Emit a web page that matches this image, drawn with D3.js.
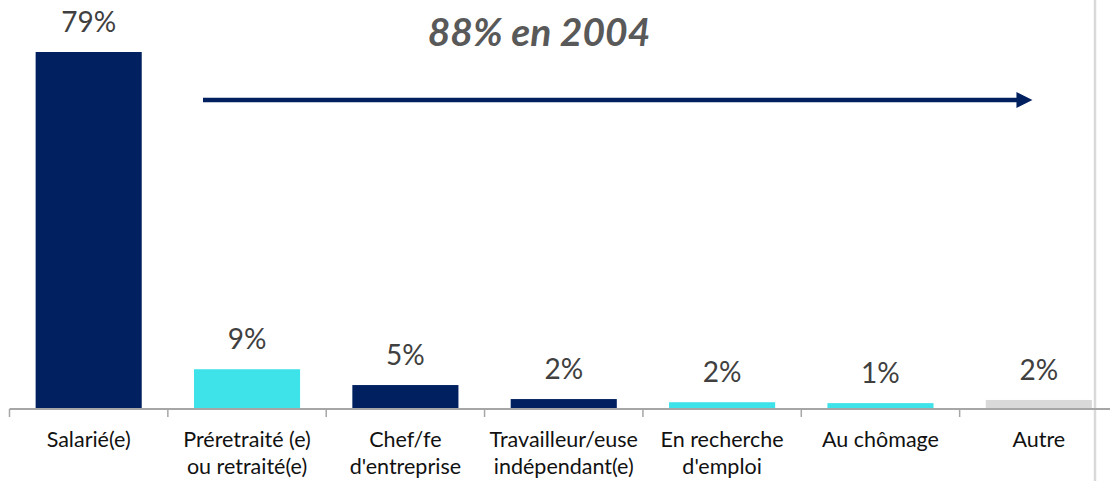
<!DOCTYPE html>
<html><head><meta charset="utf-8">
<script src="https://cdn.jsdelivr.net/npm/d3@7"></script>
<style>html,body{margin:0;padding:0;background:#fff;}svg{display:block;}</style>
</head><body>
<svg id="chart" width="1110" height="481"></svg>
<script>
const categories = ["Salarié(e)", "Préretraité (e)\nou retraité(e)", "Chef/fe\nd'entreprise", "Travailleur/euse\nindépendant(e)", "En recherche\nd'emploi", "Au chômage", "Autre"];
const values = [79, 8.8, 5.3, 2.2, 1.5, 1.3, 2.0];
const valueLabels = ["79%", "9%", "5%", "2%", "2%", "1%", "2%"];
const groups = ["actif", "inactif", "actif", "actif", "inactif", "inactif", "autre"];
const annotation = "88% en 2004";

const colors = {actif: "#002060", inactif: "#3EE2E9", autre: "#D9D9D9"};
const svg = d3.select("#chart");
const W = 1110, H = 481;
const x = d3.scaleBand().domain(categories).range([9.5, 1118]).paddingInner(0.33).paddingOuter(0.165);
const y = d3.scaleLinear().domain([0, 79]).range([409, 52]);

// right border line
svg.append("line").attr("x1", 1095).attr("x2", 1095).attr("y1", 0).attr("y2", H)
  .attr("stroke", "#D9D9D9").attr("stroke-width", 2.5);

// bars
svg.selectAll("rect.bar").data(values).join("rect").attr("class", "bar")
  .attr("x", (d, i) => x(categories[i]))
  .attr("width", x.bandwidth())
  .attr("y", d => y(d))
  .attr("height", d => y(0) - y(d))
  .attr("fill", (d, i) => colors[groups[i]]);

// value labels
svg.selectAll("text.val").data(values).join("text").attr("class", "val")
  .attr("x", (d, i) => x(categories[i]) + x.bandwidth() / 2)
  .attr("y", d => y(d) - 20)
  .attr("text-anchor", "middle")
  .attr("font-family", "Lato, 'Open Sans', sans-serif")
  .attr("font-size", 28)
  .attr("fill", "#404040")
  .text((d, i) => valueLabels[i]);

// axis
const step = x.step();
const x0 = x.range()[0];
svg.append("line").attr("x1", x0).attr("x2", x.range()[1]).attr("y1", y(0)).attr("y2", y(0))
  .attr("stroke", "#A6A6A6").attr("stroke-width", 2);
const tickXs = d3.range(categories.length + 1).map(i => x0 + i * step);
svg.selectAll("line.tick").data(tickXs).join("line").attr("class", "tick")
  .attr("x1", d => d).attr("x2", d => d).attr("y1", y(0)).attr("y2", y(0) + 8)
  .attr("stroke", "#A6A6A6").attr("stroke-width", 1.5);

// category labels
const cl = svg.selectAll("text.cat").data(categories).join("text").attr("class", "cat")
  .attr("x", d => x(d) + x.bandwidth() / 2)
  .attr("y", 447)
  .attr("text-anchor", "middle")
  .attr("font-family", "Lato, 'Open Sans', sans-serif")
  .attr("font-size", 21.5)
  .attr("fill", "#111");
cl.each(function(d) {
  const lines = d.split("\n");
  const t = d3.select(this);
  lines.forEach((ln, k) => {
    t.append("tspan").attr("x", x(d) + x.bandwidth() / 2).attr("dy", k === 0 ? 0 : 27).text(ln);
  });
});

// arrow annotation
const arrowY = y(68.4);
const ax1 = x(categories[1]) + x.bandwidth() * 0.085;
const ax2 = x(categories[6]) + x.bandwidth() * 0.44;
svg.append("line").attr("x1", ax1).attr("x2", ax2 - 15).attr("y1", arrowY).attr("y2", arrowY)
  .attr("stroke", "#002060").attr("stroke-width", 4.5);
svg.append("path")
  .attr("d", `M${ax2},${arrowY} L${ax2 - 16},${arrowY - 8} L${ax2 - 16},${arrowY + 8} Z`)
  .attr("fill", "#002060");

svg.append("text").attr("x", 539).attr("y", 46).attr("text-anchor", "middle")
  .attr("font-family", "Lato, 'Open Sans', sans-serif")
  .attr("font-size", 39).attr("font-weight", "bold").attr("font-style", "italic")
  .attr("fill", "#595959").text(annotation);
</script>
</body></html>
